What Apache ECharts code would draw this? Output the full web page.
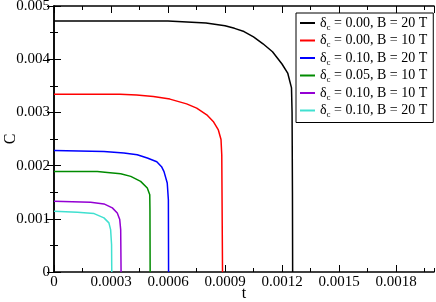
<!DOCTYPE html>
<html>
<head>
<meta charset="utf-8">
<script src="https://cdn.jsdelivr.net/npm/echarts@6/dist/echarts.min.js"></script>
<style>html,body{margin:0;padding:0;background:#fff;}#c{width:436px;height:302px;}</style>
</head>
<body>
<div id="c"></div>
<script>
// ---- data ----
const tBlack = [0, 0.0003, 0.0006, 0.0007, 0.0008, 0.0009, 0.00095, 0.001, 0.00105, 0.0011, 0.00115, 0.0012, 0.00123, 0.00125, 0.001253, 0.001255, 0.001256];
const cBlack = [0.00472, 0.00472, 0.00472, 0.0047, 0.00468, 0.00463, 0.00458, 0.00452, 0.00442, 0.00429, 0.00414, 0.00391, 0.00374, 0.00346, 0.0030, 0.0015, 0];

const tRed = [0, 0.000347, 0.000435, 0.000523, 0.00061, 0.000698, 0.000751, 0.000804, 0.000838, 0.000865, 0.000879, 0.000883, 0.000887];
const cRed = [0.00334, 0.00334, 0.003325, 0.0033, 0.00325, 0.00316, 0.00308, 0.002955, 0.00283, 0.00267, 0.00249, 0.0022, 0];

const tBlue = [0, 0.000263, 0.000368, 0.000438, 0.000491, 0.000541, 0.000566, 0.000579, 0.000596, 0.000602, 0.000603];
const cBlue = [0.002285, 0.002266, 0.002236, 0.002205, 0.002143, 0.002073, 0.00198, 0.001886, 0.001674, 0.001355, 0];

const tGreen = [0, 0.000228, 0.000281, 0.000351, 0.000404, 0.000456, 0.000491, 0.000504, 0.000505, 0.000506];
const cGreen = [0.00189, 0.00189, 0.001872, 0.001848, 0.001797, 0.001704, 0.00158, 0.001454, 0.00117, 0];

const tViolet = [0, 0.000193, 0.000263, 0.000307, 0.000333, 0.000346, 0.000351, 0.000353];
const cViolet = [0.001328, 0.00131, 0.00128, 0.001205, 0.00111, 0.000985, 0.000797, 0];

const tTurq = [0, 0.000123, 0.000211, 0.000263, 0.000289, 0.000298, 0.000303, 0.000304];
const cTurq = [0.001141, 0.001122, 0.001098, 0.001017, 0.000923, 0.000797, 0.000516, 0];

const legendDelta = ['0.00', '0.00', '0.10', '0.05', '0.10', '0.10'];
const legendB = ['20', '10', '20', '10', '10', '20'];
const xTickLabels = ['0', '0.0003', '0.0006', '0.0009', '0.0012', '0.0015', '0.0018'];
const yTickLabels = ['0', '0.001', '0.002', '0.003', '0.004', '0.005'];
const xTitle = 't';
const yTitle = 'C';

// ---- chart ----
const colors = ['#000000', '#ff0000', '#0000ff', '#008b00', '#9400d3', '#40e0d0'];
const tArr = [tBlack, tRed, tBlue, tGreen, tViolet, tTurq];
const cArr = [cBlack, cRed, cBlue, cGreen, cViolet, cTurq];
const FONT = 'Liberation Serif';

const names = legendDelta.map((d, i) => 'δc = ' + d + ', B = ' + legendB[i] + ' T' + '\u200b'.repeat(i));

const series = names.map((n, i) => ({
  name: n,
  type: 'line',
  xAxisIndex: 0, yAxisIndex: 0,
  symbol: 'none',
  smooth: false,
  animation: false,
  lineStyle: { color: colors[i], width: 1.5 },
  itemStyle: { color: colors[i] },
  data: tArr[i].map((t, k) => [t, cArr[i][k]])
}));

const axisLine = { show: true, lineStyle: { color: '#000', width: 1.5 } };
function xAxisDef(pos, major, withLabels) {
  return {
    type: 'value', position: pos, min: 0, max: 0.002,
    interval: major ? 0.0003 : 0.00015,
    axisLine: major ? axisLine : { show: false },
    axisTick: { show: true, inside: true, length: major ? 7 : 4, lineStyle: { color: '#000', width: 1 } },
    axisLabel: withLabels ? {
      show: true, margin: 3, fontFamily: FONT, fontSize: 15, color: '#000', showMaxLabel: false,
      formatter: v => { const k = Math.round(v / 0.0003); return Math.abs(v - k * 0.0003) < 1e-9 ? (xTickLabels[k] || '') : ''; }
    } : { show: false },
    splitLine: { show: false }
  };
}
function yAxisDef(pos, withLabels) {
  return {
    type: 'value', position: pos, min: 0, max: 0.005, interval: 0.001,
    axisLine: axisLine,
    axisTick: { show: true, inside: true, length: 7, lineStyle: { color: '#000', width: 1 } },
    minorTick: { show: true, splitNumber: 2, length: 4, lineStyle: { color: '#000', width: 1 } },
    axisLabel: withLabels ? {
      show: true, margin: 4, fontFamily: FONT, fontSize: 15, color: '#000',
      formatter: v => yTickLabels[Math.round(v / 0.001)] || ''
    } : { show: false },
    splitLine: { show: false }
  };
}

const chart = echarts.init(document.getElementById('c'), null, { renderer: 'canvas' });
chart.setOption({
  animation: false,
  backgroundColor: '#fff',
  grid: { left: 54, right: 2, top: 6, bottom: 30, containLabel: false, outerBoundsMode: 'none' },
  xAxis: [xAxisDef('bottom', true, true), xAxisDef('bottom', false, false), xAxisDef('top', true, false), xAxisDef('top', false, false)],
  yAxis: [yAxisDef('left', true), yAxisDef('right', false)],
  graphic: [
    { type: 'text', x: 244, y: 294, style: { text: xTitle, font: '16px "Liberation Serif"', fill: '#000', align: 'center', verticalAlign: 'middle' } },
    { type: 'text', x: 11, y: 139, rotation: Math.PI / 2, style: { text: yTitle, font: '16px "Liberation Serif"', fill: '#000', align: 'center', verticalAlign: 'middle' } }
  ],
  legend: {
    orient: 'vertical', left: 296, top: 13,
    padding: [3, 6, 3, 4],
    borderColor: '#000', borderWidth: 1, backgroundColor: '#fff',
    icon: 'rect', itemWidth: 15, itemHeight: 2, itemGap: 1.5,
    data: names,
    formatter: n => '{m|δ}{s|c}{m|' + n.replace(/\u200b/g, '').slice(2) + '}',
    textStyle: {
      color: '#000', fontFamily: FONT, fontSize: 14,
      rich: {
        m: { fontFamily: FONT, fontSize: 14, color: '#000', lineHeight: 18, verticalAlign: 'middle' },
        s: { fontFamily: FONT, fontSize: 9, color: '#000', lineHeight: 9, verticalAlign: 'bottom' }
      }
    }
  },
  series: series
});
</script>
</body>
</html>
